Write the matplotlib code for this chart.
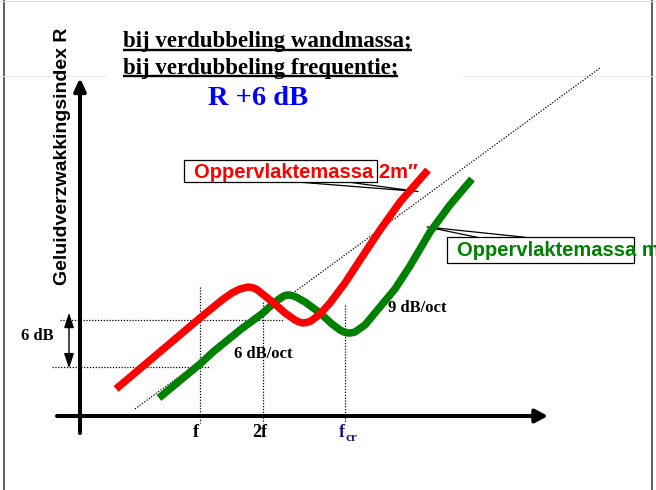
import matplotlib
matplotlib.use("Agg")
import matplotlib.pyplot as plt
from matplotlib.patches import Rectangle

# schematic units: x = octaves relative to f, y = dB above the frequency axis
red_x = [-1.333, 0.0, 0.349, 0.508, 0.635, 0.698, 0.762, 0.825, 0.889, 0.952, 1.032,
         1.190, 1.349, 1.508, 1.571, 1.635, 1.698, 1.762, 1.905, 2.063, 2.302, 2.540,
         2.857, 3.175, 3.619]
red_y = [3.38, 12.25, 14.5, 15.38, 15.88, 16.0, 16.13, 16.06, 15.88, 15.5, 15.0,
         14.0, 12.88, 12.0, 11.75, 11.63, 11.69, 11.88, 12.75, 14.13, 16.63, 19.5,
         23.25, 26.75, 30.75]

green_x = [-0.651, 0.0, 0.206, 0.635, 1.0, 1.190, 1.302, 1.349, 1.397, 1.460, 1.524,
           1.667, 1.905, 2.095, 2.222, 2.286, 2.333, 2.397, 2.460, 2.619, 2.857, 3.095,
           3.333, 3.651, 3.968, 4.317]
green_y = [2.25, 6.5, 8.0, 10.75, 12.88, 14.25, 14.88, 15.06, 15.13, 15.06, 14.88,
           14.25, 12.88, 11.5, 10.75, 10.5, 10.38, 10.38, 10.5, 11.38, 13.63, 15.88,
           18.75, 23.0, 26.38, 29.63]

ref_x = [-1.032, 6.349]     # dotted 6 dB/oct reference line
ref_y = [0.88, 43.5]

f_pos = [0.0, 1.0, 2.302]            # f, 2f, f_cr
f_top = [16.13, 14.25, 13.88]
tick_labels = ["f", "2f", "f"]

level_low, level_high = 6.1, 12.0

serif = "Liberation Serif"
sans = "Liberation Sans"

fig = plt.figure(figsize=(6.56, 4.9), dpi=100)
ax = fig.add_axes([0, 0, 1, 1])
ax.set_xlim(-200 / 63, 456 / 63)
ax.set_ylim(-74 / 8, 416 / 8)
ax.axis("off")

# page frame
ax.axvline(-3.119, color="#333333", lw=1.1)
ax.axvline(7.170, color="#333333", lw=1.1)
ax.axhline(51.9, color="#dddddd", lw=0.8)
ax.plot([-3.2, -1.5], [42.5, 42.5], color="#e8e8e8", lw=0.7)
ax.plot([4.17, 7.3], [42.5, 42.5], color="#e8e8e8", lw=0.7)

# axes with arrows
ax.annotate("", xy=(-1.905, 42.25), xytext=(-1.905, -2.125),
            arrowprops=dict(arrowstyle="-|>,head_length=0.75,head_width=0.35",
                            mutation_scale=10, lw=2.9, color="black",
                            shrinkA=0, shrinkB=0))
ax.annotate("", xy=(5.524, 0.0), xytext=(-2.27, 0.0),
            arrowprops=dict(arrowstyle="-|>,head_length=0.75,head_width=0.4",
                            mutation_scale=10, lw=2.9, color="black",
                            shrinkA=0, shrinkB=0))

dot = (0, (1, 1.3))
ax.plot(ref_x, ref_y, color="black", lw=0.9, linestyle=dot)
for x, top in zip(f_pos, f_top):
    ax.plot([x, x], [top, -0.9], color="black", lw=0.9, linestyle=dot)
ax.plot([-2.222, 1.317], [level_high, level_high], color="black", lw=0.9, linestyle=dot)
ax.plot([-2.349, 0.159], [level_low, level_low], color="black", lw=0.9, linestyle=dot)

ax.annotate("", xy=(-2.079, 12.9), xytext=(-2.079, 5.96),
            arrowprops=dict(arrowstyle="<|-|>,head_length=0.9,head_width=0.3",
                            mutation_scale=10, lw=1.0, color="black",
                            shrinkA=0, shrinkB=0))

# curves
ax.plot(red_x, red_y, color="#ff0000", lw=5.4, solid_capstyle="butt",
        solid_joinstyle="round", zorder=4)
ax.plot(green_x, green_y, color="#008000", lw=5.4, solid_capstyle="butt",
        solid_joinstyle="round", zorder=3)

# callouts
ax.plot([1.540, 3.460, 2.222], [29.25, 28.06, 29.38], color="black", lw=0.9)
ax.add_patch(Rectangle((-0.254, 29.25), 3.064, 2.75, facecolor="white",
                       edgecolor="black", lw=0.9, zorder=5))
ax.text(-0.095, 29.75, "Oppervlaktemassa 2m\u2033", color="#ff0000", fontsize=14.5,
        fontweight="bold", family=sans, va="baseline", zorder=6)

ax.plot([4.397, 3.603, 5.159], [22.34, 23.63, 22.34], color="black", lw=0.9)
ax.add_patch(Rectangle((3.916, 19.16), 2.973, 3.18, facecolor="white",
                       edgecolor="black", lw=0.9, zorder=5))
ax.text(4.087, 20.0, "Oppervlaktemassa m", color="#008000", fontsize=14.5,
        fontweight="bold", family=sans, va="baseline", zorder=6, clip_on=False)

# texts
ax.text(-2.183, 32.4, "Geluidverzwakkingsindex R", rotation=90, fontsize=14,
        fontweight="bold", family=sans, ha="center", va="center")
t1 = ax.text(-1.222, 46.1, "bij verdubbeling wandmassa;", fontsize=16.5,
             fontweight="bold", family=serif, va="baseline")
t2 = ax.text(-1.222, 42.75, "bij verdubbeling frequentie;", fontsize=16.5,
             fontweight="bold", family=serif, va="baseline")
ax.text(0.127, 38.9, "R +6 dB", color="#0000ff", fontsize=20.5,
        fontweight="bold", family=serif, va="baseline")

ax.text(-2.587, 10.0, "6 dB", fontsize=12, fontweight="bold", family=serif,
        ha="center", va="center")
ax.text(1.0, 7.75, "6 dB/oct", fontsize=12, fontweight="bold", family=serif,
        ha="center", va="center")
ax.text(3.444, 13.5, "9 dB/oct", fontsize=12, fontweight="bold", family=serif,
        ha="center", va="center")

for x, lab, c in zip([-0.063, 0.952, 2.254], tick_labels, ["black", "black", "#1a1a80"]):
    ax.text(x, -2.62, lab, fontsize=13, fontweight="bold", family=serif,
            ha="center", va="baseline", color=c)
ax.text(2.302, -3.12, "cr", fontsize=9.5, fontweight="bold", family=serif,
        ha="left", va="baseline", color="#1a1a80")

# underline the two heading lines
fig.canvas.draw()
r = fig.canvas.get_renderer()
inv = ax.transData.inverted()
for t, uy in [(t1, 45.8), (t2, 42.45)]:
    bb = t.get_window_extent(r)
    x0 = inv.transform((bb.x0, 0))[0]
    x1 = inv.transform((bb.x1, 0))[0]
    ax.plot([x0, x1], [uy, uy], color="black", lw=1.7, solid_capstyle="butt")

fig.savefig("out.png", dpi=100)
